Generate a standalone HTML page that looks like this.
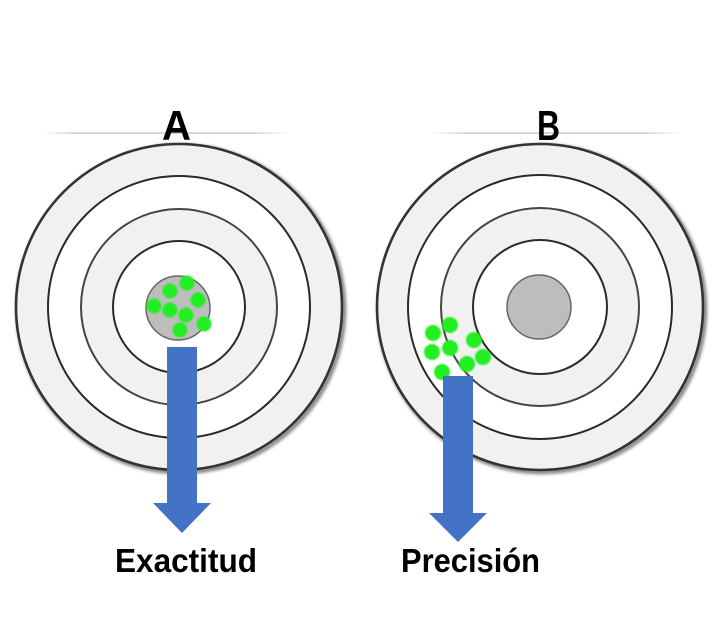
<!DOCTYPE html>
<html><head><meta charset="utf-8"><style>
html,body{margin:0;padding:0;background:#fff;}
svg{display:block;}
</style></head><body>
<svg width="725" height="618" viewBox="0 0 725 618" xmlns="http://www.w3.org/2000/svg">
<defs>
<filter id="sh" x="-10%" y="-10%" width="120%" height="120%">
<feGaussianBlur stdDeviation="1.6"/>
</filter>
<filter id="gb" x="-30%" y="-30%" width="160%" height="160%">
<feGaussianBlur stdDeviation="0.8"/>
</filter>
<linearGradient id="hl" x1="0" x2="1" y1="0" y2="0">
<stop offset="0" stop-color="#bbb" stop-opacity="0"/>
<stop offset="0.15" stop-color="#aaa" stop-opacity="0.8"/>
<stop offset="0.85" stop-color="#aaa" stop-opacity="0.8"/>
<stop offset="1" stop-color="#bbb" stop-opacity="0"/>
</linearGradient>
</defs>
<rect width="725" height="618" fill="#fff"/>

<!-- horizontal lines -->
<rect x="40" y="132.5" width="250" height="1.2" fill="url(#hl)"/>
<rect x="430" y="132.5" width="252" height="1.2" fill="url(#hl)"/>

<!-- Target A -->
<g>
<circle cx="181" cy="309" r="163" fill="none" stroke="#777" stroke-width="4" filter="url(#sh)"/>
<circle cx="179" cy="307" r="163" fill="#f1f1f1" stroke="#333" stroke-width="2.6"/>
<circle cx="179" cy="307" r="131" fill="#fff" stroke="#2a2a2a" stroke-width="2"/>
<circle cx="179" cy="307" r="98" fill="#f1f1f1" stroke="#444" stroke-width="2"/>
<circle cx="179" cy="307" r="66" fill="#fff" stroke="#2a2a2a" stroke-width="2"/>
<circle cx="178" cy="308" r="32" fill="#bdbdbd" stroke="#666" stroke-width="1.5"/>
<g fill="#22ee22" filter="url(#gb)">
<circle cx="170" cy="291" r="7.5"/>
<circle cx="187" cy="283" r="7.5"/>
<circle cx="198" cy="300" r="7.5"/>
<circle cx="154" cy="306" r="7.5"/>
<circle cx="170" cy="310" r="7.5"/>
<circle cx="186" cy="315" r="7.5"/>
<circle cx="204" cy="324" r="7.5"/>
<circle cx="180" cy="330" r="7.5"/>
</g>
</g>

<!-- Target B -->
<g>
<circle cx="542" cy="309" r="163" fill="none" stroke="#777" stroke-width="4" filter="url(#sh)"/>
<circle cx="540" cy="307" r="163" fill="#f1f1f1" stroke="#333" stroke-width="2.6"/>
<circle cx="540" cy="307" r="132" fill="#fff" stroke="#2a2a2a" stroke-width="2"/>
<circle cx="540" cy="307" r="99" fill="#f1f1f1" stroke="#444" stroke-width="2"/>
<circle cx="540" cy="307" r="67" fill="#fff" stroke="#2a2a2a" stroke-width="2"/>
<circle cx="539" cy="307" r="32" fill="#bdbdbd" stroke="#666" stroke-width="1.5"/>
<g fill="#22ee22" filter="url(#gb)">
<circle cx="433" cy="333" r="8"/>
<circle cx="450" cy="325" r="8"/>
<circle cx="474" cy="340" r="8"/>
<circle cx="432" cy="352" r="8"/>
<circle cx="450" cy="348" r="8"/>
<circle cx="483" cy="357" r="8"/>
<circle cx="467" cy="364" r="8"/>
<circle cx="442" cy="372" r="8"/>
</g>
</g>

<!-- Arrows -->
<path d="M167 347 H197 V503 H211 L182 533 L153 503 H167 Z" fill="#4472c4"/>
<path d="M443 376 H473 V513 H487 L458 542 L429 513 H443 Z" fill="#4472c4"/>

<!-- Letters -->
<text x="162" y="140" font-family="Liberation Sans, sans-serif" font-weight="bold" font-size="42" fill="#000" textLength="29" lengthAdjust="spacingAndGlyphs">A</text>
<text x="537" y="140" font-family="Liberation Sans, sans-serif" font-weight="bold" font-size="42" fill="#000" textLength="23" lengthAdjust="spacingAndGlyphs">B</text>

<!-- Labels -->
<text x="115" y="572" font-family="Liberation Sans, sans-serif" font-weight="bold" font-size="33" fill="#000" textLength="142" lengthAdjust="spacingAndGlyphs">Exactitud</text>
<text x="401" y="572" font-family="Liberation Sans, sans-serif" font-weight="bold" font-size="33" fill="#000" textLength="139" lengthAdjust="spacingAndGlyphs">Precisión</text>
</svg>
</body></html>
